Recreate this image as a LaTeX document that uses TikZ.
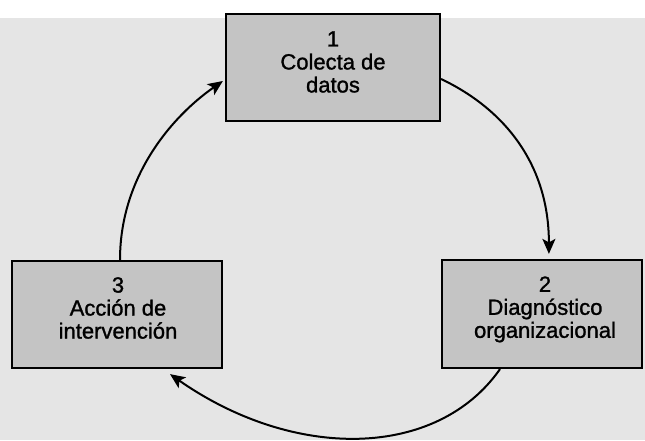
\documentclass[tikz,border=0pt]{standalone}
\usepackage{fontspec}
\setmainfont{Liberation Sans}
\newfontfamily\lblfont{Liberation Sans}[BoldFont={Liberation Sans},BoldFeatures={FakeBold=1.2}]
\usetikzlibrary{arrows.meta,calc}
\begin{document}
\begin{tikzpicture}[x=1pt,y=1pt,
  box/.style={draw=black, line width=2.2pt, fill=black!23, inner sep=0pt},
  lbl/.style={align=center, font=\lblfont\bfseries\fontsize{22}{23}\selectfont, inner sep=0pt},
  conn/.style={line width=2pt, -{Stealth[length=15pt,width=13pt,inset=3.5pt]}},
]
\useasboundingbox (0,0) rectangle (645,440);
\fill[black!10] (0,0) rectangle (645,422);
% boxes
\node[box, minimum width=214pt, minimum height=107pt] (n1) at (333,372.5) {};
\node[box, minimum width=200pt, minimum height=108pt] (n2) at (542,126) {};
\node[box, minimum width=210pt, minimum height=107pt] (n3) at (117,125.5) {};
% labels
\node[lbl] (t1) at (333,378) {1\\Colecta de\\datos};
\node[lbl] (t2) at (545,130.6) {2\\Diagnóstico\\organizacional};
\node[lbl] (t3) at (118,132) {3\\Acción de\\intervención};
% connector end points
\coordinate (a1s) at ($(n1.east)+(0,-11.5)$);
\coordinate (a1e) at ($(n2.north west)+(108,5)$);
\coordinate (a2s) at ($(n2.south)+(-42,0)$);
\coordinate (a2e) at ($(n3.south)+(53,-5)$);
\coordinate (a3s) at ($(n3.north)+(3,0)$);
\coordinate (a3e) at ($(n1.west)+(-2,-13.5)$);
% connectors
\draw[conn] (a1s) .. controls +(63,-30) and +(0,90) .. (a1e);
\draw[conn] (a2s) .. controls +(-63,-90) and +(124.5,-87) .. (a2e);
\draw[conn] (a3s) .. controls +(0,85) and +(-49,-34) .. (a3e);
\end{tikzpicture}
\end{document}
